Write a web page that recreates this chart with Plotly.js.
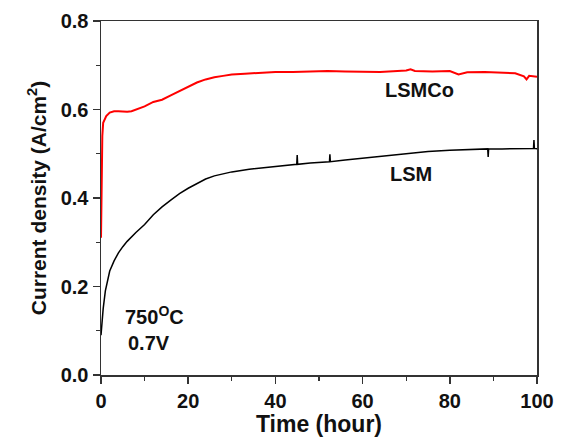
<!DOCTYPE html>
<html>
<head>
<meta charset="utf-8">
<script src="https://cdn.plot.ly/plotly-3.0.1.min.js"></script>
<style>html,body{margin:0;padding:0;background:#fff;}#chart{width:568px;height:440px;}</style>
</head>
<body>
<div id="chart"></div>
<script>
const lsmcoX = [0, 0.1, 0.3, 0.5, 0.8, 1.2, 2, 3, 4, 5, 6, 7, 8, 10, 12, 14, 16, 18, 20, 22, 24, 26, 28, 30, 33, 36, 40, 44, 48, 52, 56, 60, 64, 68, 70, 71, 72, 76, 80, 82, 82.5, 84, 88, 92, 95, 97, 97.6, 98.2, 100];
const lsmcoY = [0.31, 0.45, 0.54, 0.57, 0.578, 0.585, 0.593, 0.596, 0.596, 0.595, 0.595, 0.596, 0.6, 0.607, 0.617, 0.622, 0.632, 0.642, 0.652, 0.661, 0.668, 0.673, 0.676, 0.679, 0.681, 0.683, 0.685, 0.685, 0.686, 0.687, 0.686, 0.686, 0.685, 0.687, 0.688, 0.691, 0.687, 0.686, 0.687, 0.679, 0.68, 0.684, 0.685, 0.684, 0.682, 0.675, 0.668, 0.676, 0.674];
const lsmX = [0, 0.2, 0.5, 1, 1.5, 2, 3, 4, 5, 6, 8, 10, 12, 14, 16, 18, 20, 22, 24, 26, 28, 30, 34, 38, 42, 44.9, 45, 45.1, 48, 52.4, 52.5, 52.6, 56, 60, 65, 70, 75, 80, 85, 88.7, 88.8, 88.9, 92, 96, 99.2, 99.3, 99.4, 100];
const lsmY = [0.09, 0.12, 0.15, 0.19, 0.215, 0.235, 0.258, 0.276, 0.29, 0.302, 0.322, 0.34, 0.362, 0.38, 0.395, 0.41, 0.422, 0.432, 0.443, 0.45, 0.455, 0.459, 0.465, 0.469, 0.473, 0.476, 0.497, 0.476, 0.479, 0.482, 0.499, 0.482, 0.486, 0.49, 0.496, 0.5, 0.505, 0.508, 0.51, 0.511, 0.493, 0.511, 0.511, 0.512, 0.512, 0.531, 0.512, 0.511];
const xTicks = [0, 20, 40, 60, 80, 100];
const yTicks = [0.0, 0.2, 0.4, 0.6, 0.8];
const yTickText = ['0.0', '0.2', '0.4', '0.6', '0.8'];

const FONT = 'Liberation Sans, Arial, Helvetica, sans-serif';
const traces = [
  {x: lsmcoX, y: lsmcoY, mode: 'lines', line: {color: '#ff0000', width: 2}, name: 'LSMCo'},
  {x: lsmX, y: lsmY, mode: 'lines', line: {color: '#000000', width: 1.5}, name: 'LSM'}
];
const axisCommon = {
  showgrid: false, zeroline: false, showline: true, linecolor: '#333', linewidth: 1.5,
  mirror: true, ticks: 'outside', ticklen: 7, tickwidth: 1.5, tickcolor: '#333',
  tickfont: {family: FONT, size: 20, color: '#111', weight: 'bold'},
  minor: {ticks: 'outside', ticklen: 4, tickwidth: 1.2, tickcolor: '#333'}
};
const layout = {
  width: 568, height: 440,
  margin: {l: 101, r: 31, t: 21, b: 65},
  paper_bgcolor: '#fff', plot_bgcolor: '#fff',
  showlegend: false,
  xaxis: Object.assign({}, axisCommon, {
    range: [0, 100], tickvals: xTicks, ticktext: xTicks.map(String),
    minor: Object.assign({}, axisCommon.minor, {dtick: 10, tick0: 0}),
    title: {text: '<b>Time (hour)</b>', font: {family: FONT, size: 23, color: '#111'}, standoff: 3}
  }),
  yaxis: Object.assign({}, axisCommon, {
    range: [0, 0.8], tickvals: yTicks, ticktext: yTickText,
    minor: Object.assign({}, axisCommon.minor, {dtick: 0.1, tick0: 0}),
    title: {text: '<b>Current density (A/cm<sup>2</sup>)</b>', font: {family: FONT, size: 21, color: '#111'}, standoff: 8}
  }),
  annotations: [
    {x: 73, y: 0.645, xref: 'x', yref: 'y', text: '<b>LSMCo</b>', showarrow: false, font: {family: FONT, size: 20, color: '#111'}},
    {x: 71, y: 0.455, xref: 'x', yref: 'y', text: '<b>LSM</b>', showarrow: false, font: {family: FONT, size: 20, color: '#111'}},
    {x: 12.2, y: 0.135, xref: 'x', yref: 'y', text: '<b>750<sup>O</sup>C</b>', showarrow: false, font: {family: FONT, size: 20, color: '#111'}},
    {x: 11, y: 0.072, xref: 'x', yref: 'y', text: '<b>0.7V</b>', showarrow: false, font: {family: FONT, size: 20, color: '#111'}}
  ]
};
Plotly.newPlot('chart', traces, layout, {displayModeBar: false, staticPlot: true});
</script>
</body>
</html>
